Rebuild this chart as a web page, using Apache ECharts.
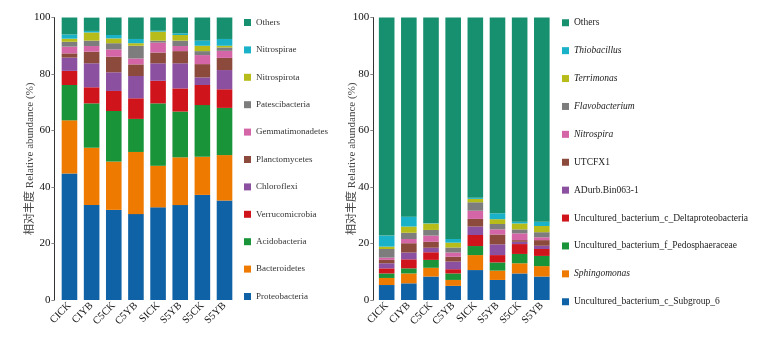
<!DOCTYPE html>
<html>
<head>
<meta charset="utf-8">
<script src="https://cdn.jsdelivr.net/npm/echarts@6/dist/echarts.min.js"></script>
<style>
html,body{margin:0;padding:0;background:#fff;}
#c{width:759px;height:339px;}
</style>
</head>
<body>
<div id="c"></div>
<script>
var categories = ['CICK', 'CIYB', 'C5CK', 'C5YB', 'SICK', 'S5YB', 'S5CK', 'S5YB'];
var yTicks = [0, 20, 40, 60, 80, 100];

// Left chart (phylum), bottom to top
var phylaNames = ['Proteobacteria', 'Bacteroidetes', 'Acidobacteria', 'Verrucomicrobia', 'Chloroflexi',
  'Planctomycetes', 'Gemmatimonadetes', 'Patescibacteria', 'Nitrospirota', 'Nitrospirae', 'Others'];
var proteobacteria   = [44.8, 33.6, 31.9, 30.4, 32.8, 33.6, 37.2, 35.2];
var bacteroidetes    = [18.8, 20.3, 17.1, 22.0, 14.7, 16.9, 13.5, 16.1];
var acidobacteria    = [12.5, 15.7, 17.9, 11.7, 22.1, 16.2, 18.3, 16.7];
var verrucomicrobia  = [5.0, 5.7, 7.1, 7.3, 8.0, 8.2, 7.1, 6.6];
var chloroflexi      = [4.7, 8.5, 6.6, 7.9, 6.2, 8.9, 2.7, 6.8];
var planctomycetes   = [1.5, 4.1, 5.5, 4.1, 3.8, 4.3, 4.7, 4.3];
var gemmatimonadetes = [2.4, 2.0, 2.6, 2.1, 3.5, 1.8, 3.2, 2.5];
var patescibacteria  = [1.7, 1.9, 2.2, 4.5, 0.7, 1.9, 1.4, 1.2];
var nitrospirota     = [1.1, 2.9, 1.7, 0.9, 3.2, 2.0, 1.9, 0.6];
var nitrospirae      = [1.5, 0.55, 1.2, 1.5, 0.3, 0.6, 1.8, 2.4];
var othersPhylum     = [6.0, 4.7, 6.2, 7.6, 4.7, 5.6, 8.2, 7.6];
var phylaValues = [proteobacteria, bacteroidetes, acidobacteria, verrucomicrobia, chloroflexi,
  planctomycetes, gemmatimonadetes, patescibacteria, nitrospirota, nitrospirae, othersPhylum];

// Right chart (genus), bottom to top
var genusNames = ['Uncultured_bacterium_c_Subgroup_6', 'Sphingomonas', 'Uncultured_bacterium_f_Pedosphaeraceae',
  'Uncultured_bacterium_c_Deltaproteobacteria', 'ADurb.Bin063-1', 'UTCFX1', 'Nitrospira', 'Flavobacterium',
  'Terrimonas', 'Thiobacillus', 'Others'];
var italicGenus = ['Sphingomonas', 'Nitrospira', 'Flavobacterium', 'Terrimonas', 'Thiobacillus'];
var subgroup6      = [5.3, 5.9, 8.3, 5.0, 10.6, 7.1, 9.4, 8.3];
var sphingomonas   = [2.5, 3.5, 3.1, 2.1, 5.3, 3.3, 3.6, 3.7];
var pedosphaeraceae= [1.6, 1.8, 2.8, 2.3, 3.2, 2.9, 3.3, 3.6];
var deltaproteo    = [1.8, 3.2, 2.7, 1.5, 3.9, 2.6, 3.5, 2.45];
var adurb          = [1.8, 2.4, 1.6, 2.7, 3.0, 3.8, 0.8, 1.15];
var utcfx1         = [1.2, 3.3, 2.1, 1.7, 2.7, 3.5, 0.6, 2.0];
var nitrospira     = [0.8, 1.5, 2.2, 1.5, 2.9, 1.8, 2.4, 1.0];
var flavobacterium = [3.05, 2.2, 2.0, 1.8, 3.0, 1.9, 1.4, 1.8];
var terrimonas     = [0.85, 2.2, 2.3, 1.7, 1.2, 1.7, 2.1, 2.2];
var thiobacillus   = [3.9, 3.5, 0.2, 1.3, 0.4, 2.1, 0.6, 1.5];
var othersGenus    = [77.2, 70.5, 72.7, 78.4, 63.8, 69.3, 72.3, 72.3];
var genusValues = [subgroup6, sphingomonas, pedosphaeraceae, deltaproteo, adurb, utcfx1,
  nitrospira, flavobacterium, terrimonas, thiobacillus, othersGenus];

var palette = ['#1062a6', '#ee7a00', '#1a9438', '#d0141c', '#8c50a0', '#8c4a3c',
  '#d466a8', '#7d7d7d', '#b8bc1a', '#1ab2c8', '#17906f'];

var serif = '"Liberation Serif", "Times New Roman", "Noto Sans CJK SC", serif';

function makeSeries(names, values, idx, stack) {
  return names.map(function (n, i) {
    return {
      name: n, type: 'bar', stack: stack, xAxisIndex: idx, yAxisIndex: idx,
      barWidth: 15.6, data: values[i], itemStyle: { color: palette[i] },
      emphasis: { disabled: true }
    };
  });
}

function xAx(idx) {
  return {
    type: 'category', gridIndex: idx, data: categories,
    axisLine: { show: false }, axisTick: { show: false },
    axisLabel: { rotate: 45, fontFamily: serif, fontSize: 10.5, color: '#111', margin: 4, interval: 0 }
  };
}
function yAx(idx, off, gap) {
  return {
    type: 'value', gridIndex: idx, min: 0, max: 100, interval: 20, offset: off,
    name: '相对丰度 Relative abundance (%)', nameLocation: 'middle', nameGap: gap,
    nameMoveOverlap: false,
    nameTextStyle: { fontFamily: serif, fontSize: 11, color: '#444' },
    axisLine: { show: true, lineStyle: { color: '#333', width: 1 } },
    axisTick: { show: true, length: 3, lineStyle: { color: '#888' } },
    axisLabel: { fontFamily: serif, fontSize: 11, color: '#111', margin: 4 },
    splitLine: { show: false }
  };
}

var chart = echarts.init(document.getElementById('c'));
chart.setOption({
  animation: false,
  backgroundColor: '#fff',
  grid: [
    { left: 58.4, top: 17.5, width: 177.2, height: 282.5 },
    { left: 375.6, top: 17.5, width: 177.3, height: 282.5 }
  ],
  xAxis: [xAx(0), xAx(1)],
  yAxis: [yAx(0, 4, 19), yAx(1, 2.3, 16)],
  legend: [
    {
      orient: 'vertical', left: 239, top: 13, itemWidth: 7, itemHeight: 7, itemGap: 18.4,
      icon: 'rect', data: phylaNames.slice().reverse(),
      textStyle: { fontFamily: serif, fontSize: 9, color: '#333', lineHeight: 7 },
      selectedMode: false
    },
    {
      orient: 'vertical', left: 557, top: 13, itemWidth: 7, itemHeight: 7, itemGap: 18.4,
      icon: 'rect', data: genusNames.slice().reverse(),
      formatter: function (n) { return italicGenus.indexOf(n) >= 0 ? '{i|' + n + '}' : n; },
      textStyle: { fontFamily: serif, fontSize: 9.5, color: '#222', lineHeight: 7,
        rich: { i: { fontStyle: 'italic', fontFamily: serif, fontSize: 9.5, color: '#222' } } },
      selectedMode: false
    }
  ],
  series: makeSeries(phylaNames, phylaValues, 0, 'a').concat(makeSeries(genusNames, genusValues, 1, 'b'))
});
</script>
</body>
</html>
